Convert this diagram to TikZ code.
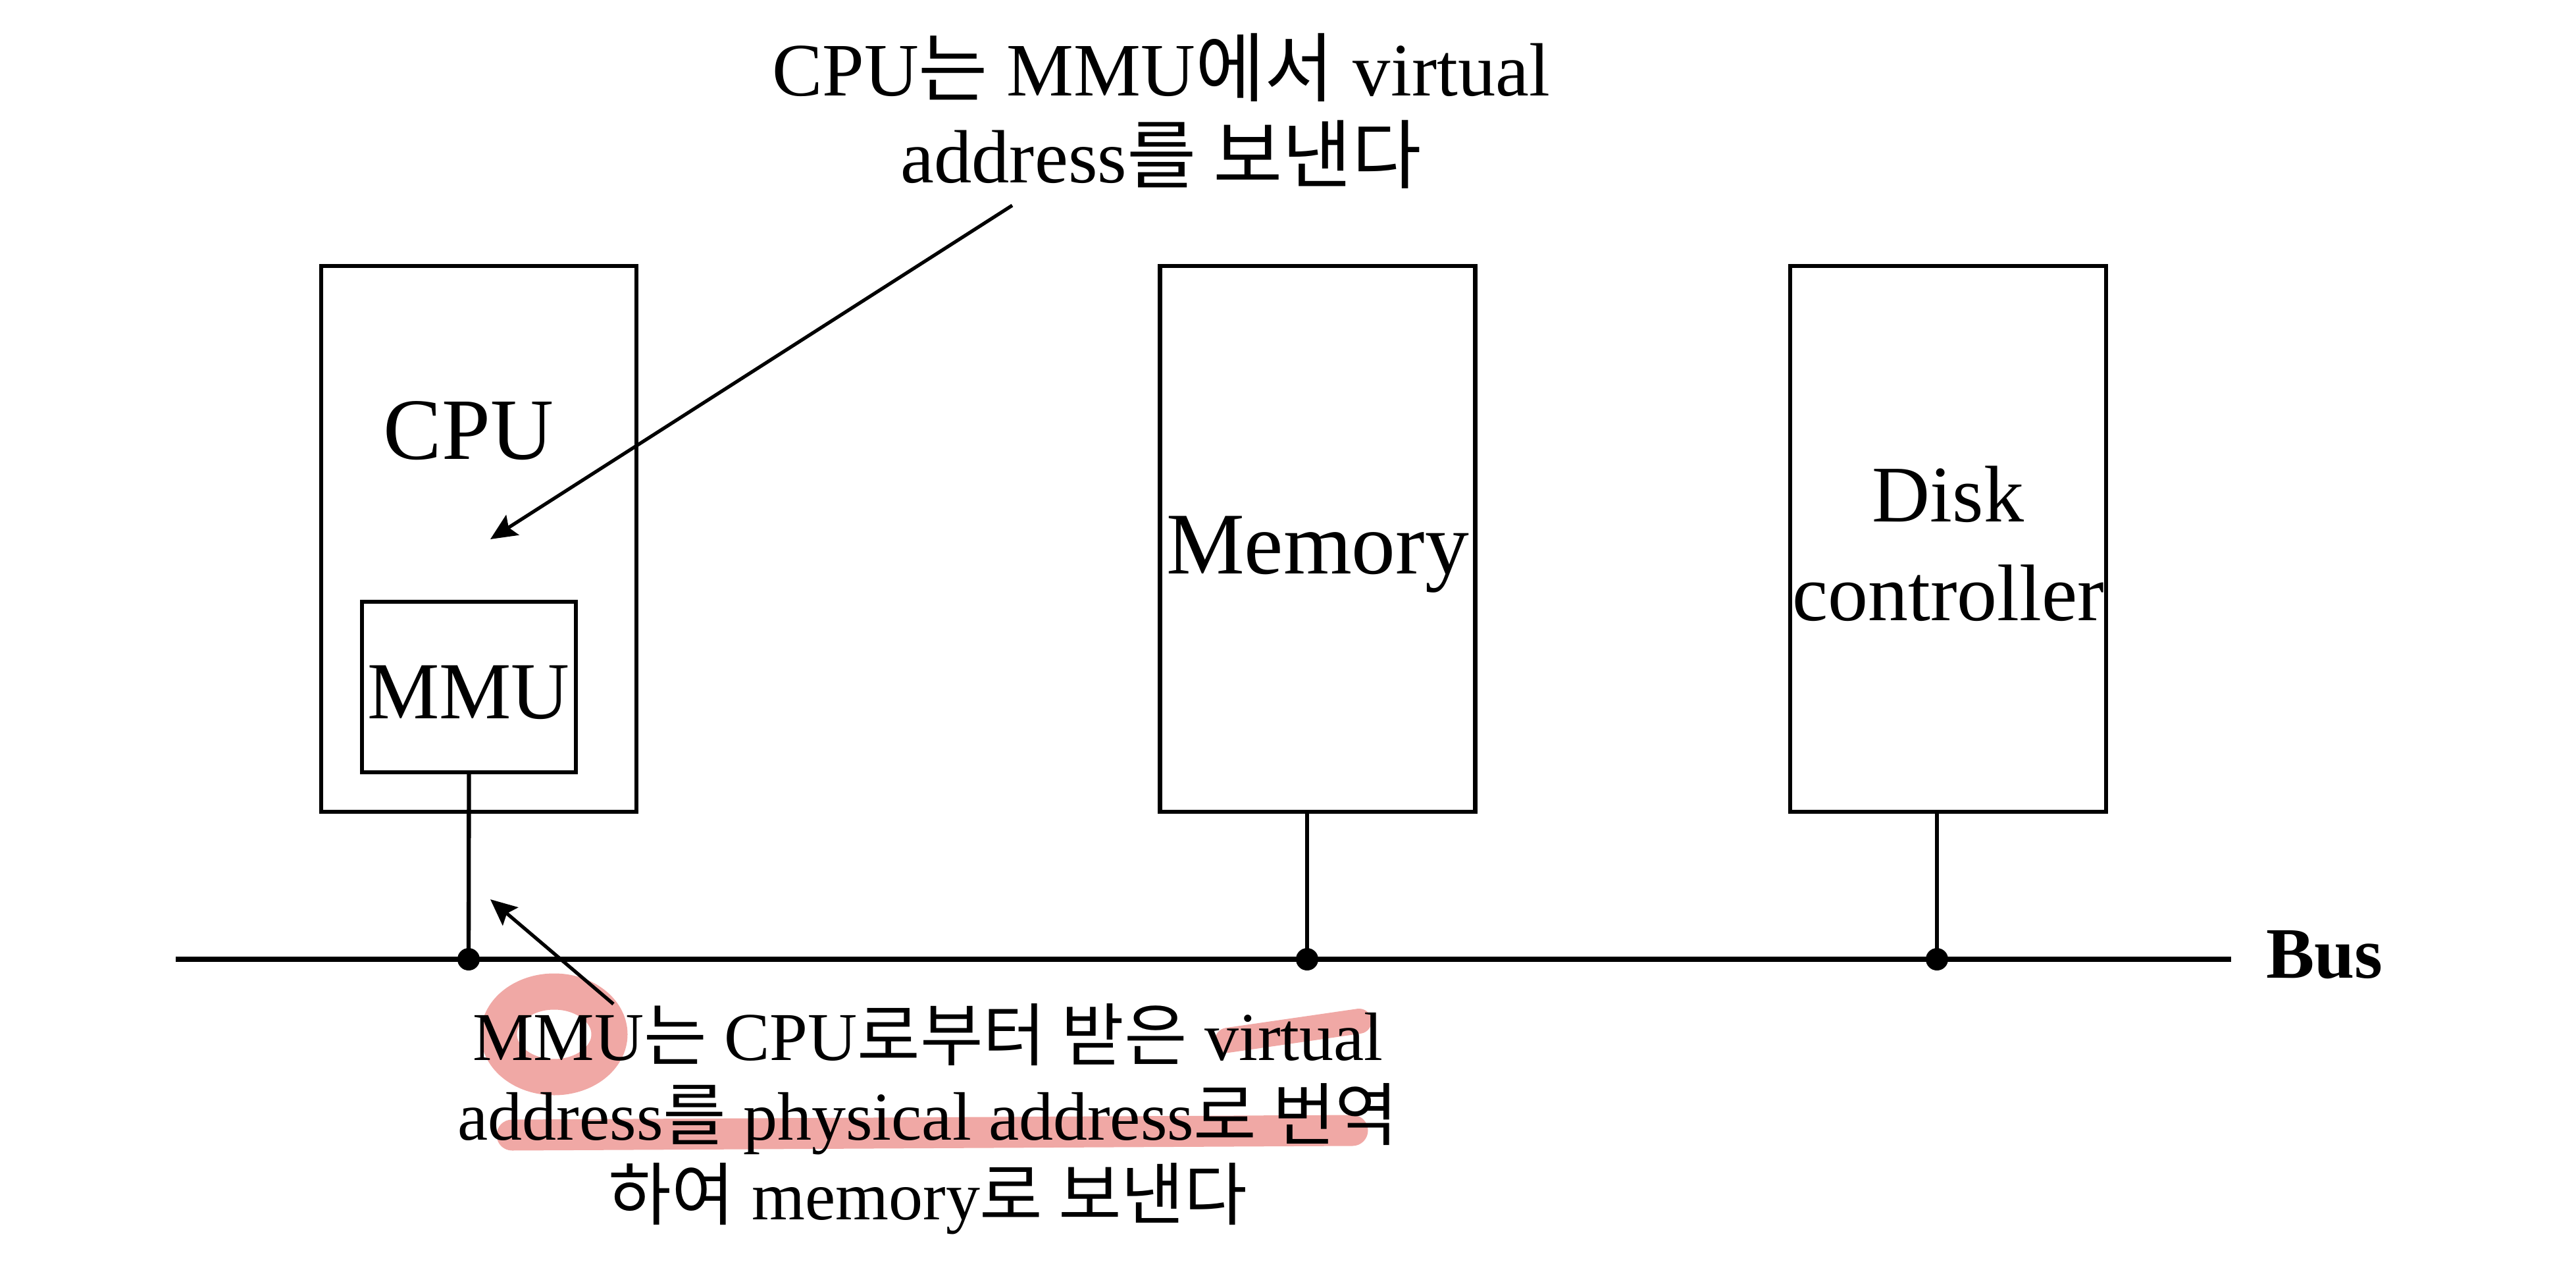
\documentclass[tikz,border=0pt]{standalone}
\usepackage{fontspec}
\setmainfont{Liberation Serif}
\newfontfamily\hangul{Noto Sans CJK KR}
\usetikzlibrary{arrows.meta}
\definecolor{marker}{RGB}{240,168,165}

\begin{document}
\begin{tikzpicture}[
	unit/.style={draw, line width=1.8pt, inner sep=0pt},
	lbl/.style={anchor=base, inner sep=0pt},
	note/.style={anchor=base, inner sep=0pt, align=center},
	tap/.style={line width=1.8pt},
	hint/.style={line width=1.5pt, -{Stealth[length=4mm,width=3.6mm,inset=0.7mm]}},
	hl/.style={marker, line cap=round}]
	\useasboundingbox (0,0) rectangle (39.14,-19.32);
	% highlighter marks
	\draw[hl, line width=0.55cm] (8.42,-15.71) ellipse [x radius=0.84, y radius=0.65];
	\draw[hl, line width=0.38cm] (18.65,-15.80) -- (20.65,-15.51);
	\draw[hl, line width=0.47cm] (7.78,-17.24) -- (20.55,-17.17);
	% units
	\node[unit, minimum width=4.79cm, minimum height=8.29cm] (cpu) at (7.275,-8.185) {};
	\node[unit, minimum width=3.25cm, minimum height=2.59cm] (mmu) at (7.125,-10.435) {};
	\node[unit, minimum width=4.79cm, minimum height=8.29cm] (mem) at (20.02,-8.185) {};
	\node[unit, minimum width=4.80cm, minimum height=8.29cm] (disk) at (29.60,-8.185) {};
	\node[lbl, font=\fontsize{37.8}{45}\selectfont] (cpulbl) at (7.12,-6.98) {CPU};
	\node[lbl, font=\fontsize{35}{42}\selectfont] (mmulbl) at (7.12,-10.91) {MMU};
	\node[lbl, font=\fontsize{38}{45}\selectfont] (memlbl) at (20.02,-8.72) {Memory};
	\node[note, font=\fontsize{34.7}{42.7}\selectfont] (disklbl) at (29.60,-9.43) {Disk\\controller};
	% bus
	\coordinate (busL) at (2.67,-14.57);
	\coordinate (busR) at (33.90,-14.57);
	\coordinate (tapcpu) at (7.12,-14.57);
	\coordinate (tapmem) at (19.86,-14.57);
	\coordinate (tapdisk) at (29.43,-14.57);
	\draw[line width=2pt] (busL) -- (busR);
	\node[lbl, font=\fontsize{31.3}{38}\selectfont\bfseries] (bus) at (35.32,-14.85) {Bus};
	\draw[tap] (mmu.south) -- (tapcpu);
	\draw[tap] (tapmem |- mem.south) -- (tapmem);
	\draw[tap] (tapdisk |- disk.south) -- (tapdisk);
	\fill (tapcpu) circle (0.17);
	\fill (tapmem) circle (0.17);
	\fill (tapdisk) circle (0.17);
	% notes
	\node[note, font=\fontsize{32.6}{37.8}\selectfont] (sendnote) at (17.64,-2.78)
		{CPU{\hangul 는} MMU{\hangul 에서} virtual\\address{\hangul 를 보낸다}};
	\node[note, font=\fontsize{29.6}{34.3}\selectfont] (mapnote) at (14.10,-18.52)
		{MMU{\hangul 는} CPU{\hangul 로부터 받은} virtual\\address{\hangul 를} physical address{\hangul 로 번역}\\{\hangul 하여} memory{\hangul 로 보낸다}};
	\coordinate (sendfrom) at (15.38,-3.12);
	\coordinate (sendto) at (7.45,-8.19);
	\coordinate (mapfrom) at (9.32,-15.25);
	\coordinate (mapto) at (7.45,-13.66);
	\draw[hint] (sendfrom) -- (sendto);
	\draw[hint] (mapfrom) -- (mapto);
\end{tikzpicture}
\end{document}
